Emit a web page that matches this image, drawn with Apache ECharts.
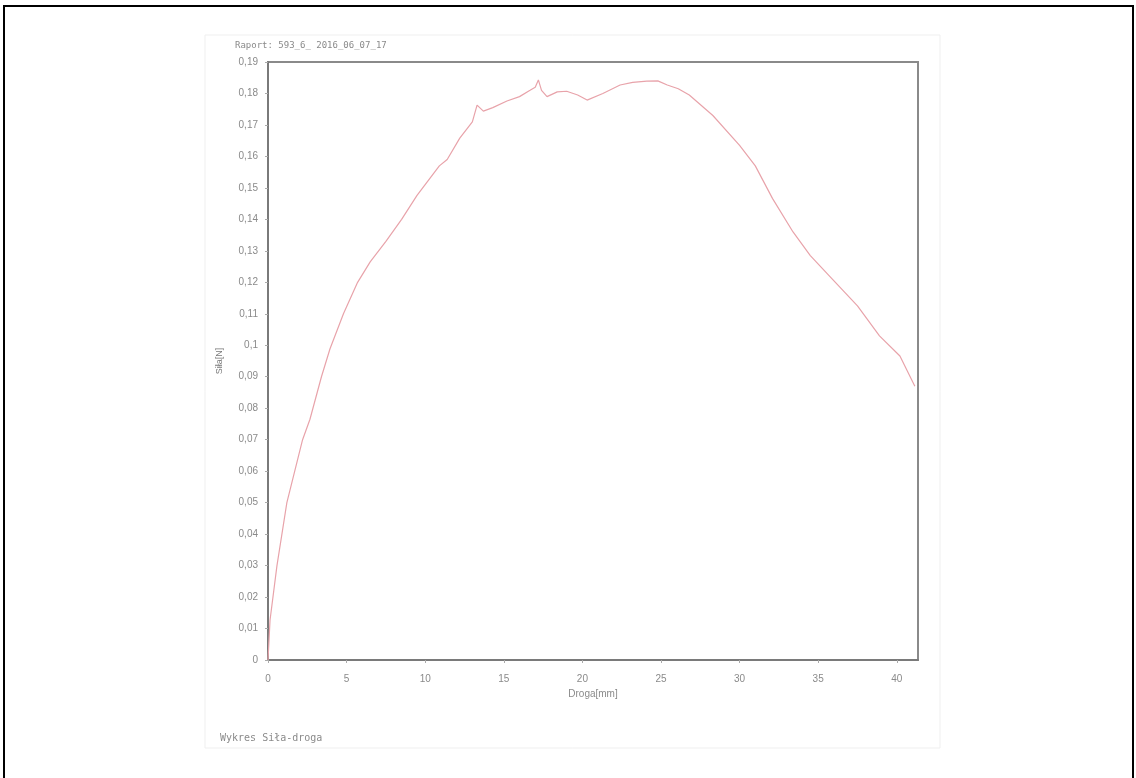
<!DOCTYPE html>
<html>
<head>
<meta charset="utf-8">
<script src="https://cdn.jsdelivr.net/npm/echarts@6/dist/echarts.min.js"></script>
<style>
html,body{margin:0;padding:0;background:#fff;}
#chart{width:1136px;height:778px;}
</style>
</head>
<body>
<div id="chart"></div>
<script>
const titleText = "Raport: 593_6_ 2016_06_07_17";
const footerText = "Wykres Siła-droga";
const xAxisName = "Droga[mm]";
const yAxisName = "Siła[N]";
const distance = [0,0.13,0.57,1.2,2.2,2.67,3.4,3.94,4.8,5.7,6.5,7.5,8.5,9.48,10.9,11.4,12.2,13.0,13.3,13.7,14.3,15.2,16.0,16.67,17.0,17.2,17.4,17.75,18.4,19.0,19.7,20.3,21.3,22.4,23.2,24.1,24.8,25.4,26.1,26.8,28.3,30.0,31.0,32.1,33.4,34.5,35.9,37.5,38.9,40.2,41.15];
const force = [0,0.0127,0.03,0.05,0.07,0.0765,0.09,0.0988,0.11,0.12,0.1265,0.133,0.14,0.1476,0.157,0.159,0.1658,0.171,0.1763,0.1744,0.1755,0.1776,0.179,0.181,0.182,0.1843,0.181,0.179,0.1805,0.1807,0.1795,0.1779,0.180,0.1827,0.1835,0.1839,0.184,0.1827,0.1815,0.1795,0.173,0.1635,0.157,0.1466,0.136,0.1285,0.121,0.1125,0.103,0.0966,0.087];

const points = distance.map((d, i) => [d, force[i]]);
const chart = echarts.init(document.getElementById('chart'), null, {renderer: 'canvas'});
chart.setOption({
  backgroundColor: '#fff',
  animation: false,
  graphic: [
    {type: 'rect', shape: {x: 4, y: 6, width: 1129, height: 790}, style: {fill: 'none', stroke: '#000', lineWidth: 2}, z: 100},
    {type: 'rect', shape: {x: 205, y: 35, width: 735, height: 713}, style: {fill: 'none', stroke: '#efefef', lineWidth: 1}},
    {type: 'text', left: 235, top: 41, style: {text: titleText, font: '9px "DejaVu Sans Mono", monospace', fill: '#8a8a8a'}},
    {type: 'text', left: 220, top: 733, style: {text: footerText, font: '10px "DejaVu Sans Mono", monospace', fill: '#8a8a8a'}}
  ],
  grid: {left: 268, right: 218, top: 62, bottom: 118, show: true, borderColor: '#8a8a8a', borderWidth: 2, backgroundColor: 'transparent'},
  xAxis: {
    type: 'value', min: 0, max: 41.35, interval: 5,
    name: xAxisName, nameLocation: 'middle', nameGap: 28,
    nameTextStyle: {color: '#8a8a8a', fontSize: 10, fontFamily: 'Liberation Sans'},
    axisLine: {show: true, onZero: false, lineStyle: {color: '#7a7a7a', width: 2}},
    axisTick: {show: true, length: 3, lineStyle: {color: '#aaa'}},
    axisLabel: {color: '#8a8a8a', fontSize: 10, margin: 14, fontFamily: 'Liberation Sans', showMaxLabel: false},
    splitLine: {show: false}
  },
  yAxis: {
    type: 'value', min: 0, max: 0.19, interval: 0.01,
    name: yAxisName, nameLocation: 'middle', nameGap: 44,
    nameTextStyle: {color: '#7a7a7a', fontSize: 9, fontFamily: 'Liberation Sans'},
    axisLine: {show: true, lineStyle: {color: '#7a7a7a', width: 2}},
    axisTick: {show: true, length: 3, lineStyle: {color: '#aaa'}},
    axisLabel: {color: '#8a8a8a', fontSize: 10, margin: 10, fontFamily: 'Liberation Sans',
      formatter: v => (Math.round(v * 100) / 100).toString().replace('.', ',')},
    splitLine: {show: false}
  },
  series: [{
    type: 'line', data: points, showSymbol: false, smooth: false,
    lineStyle: {color: '#e8a3aa', width: 1.2}
  }]
});
</script>
</body>
</html>
